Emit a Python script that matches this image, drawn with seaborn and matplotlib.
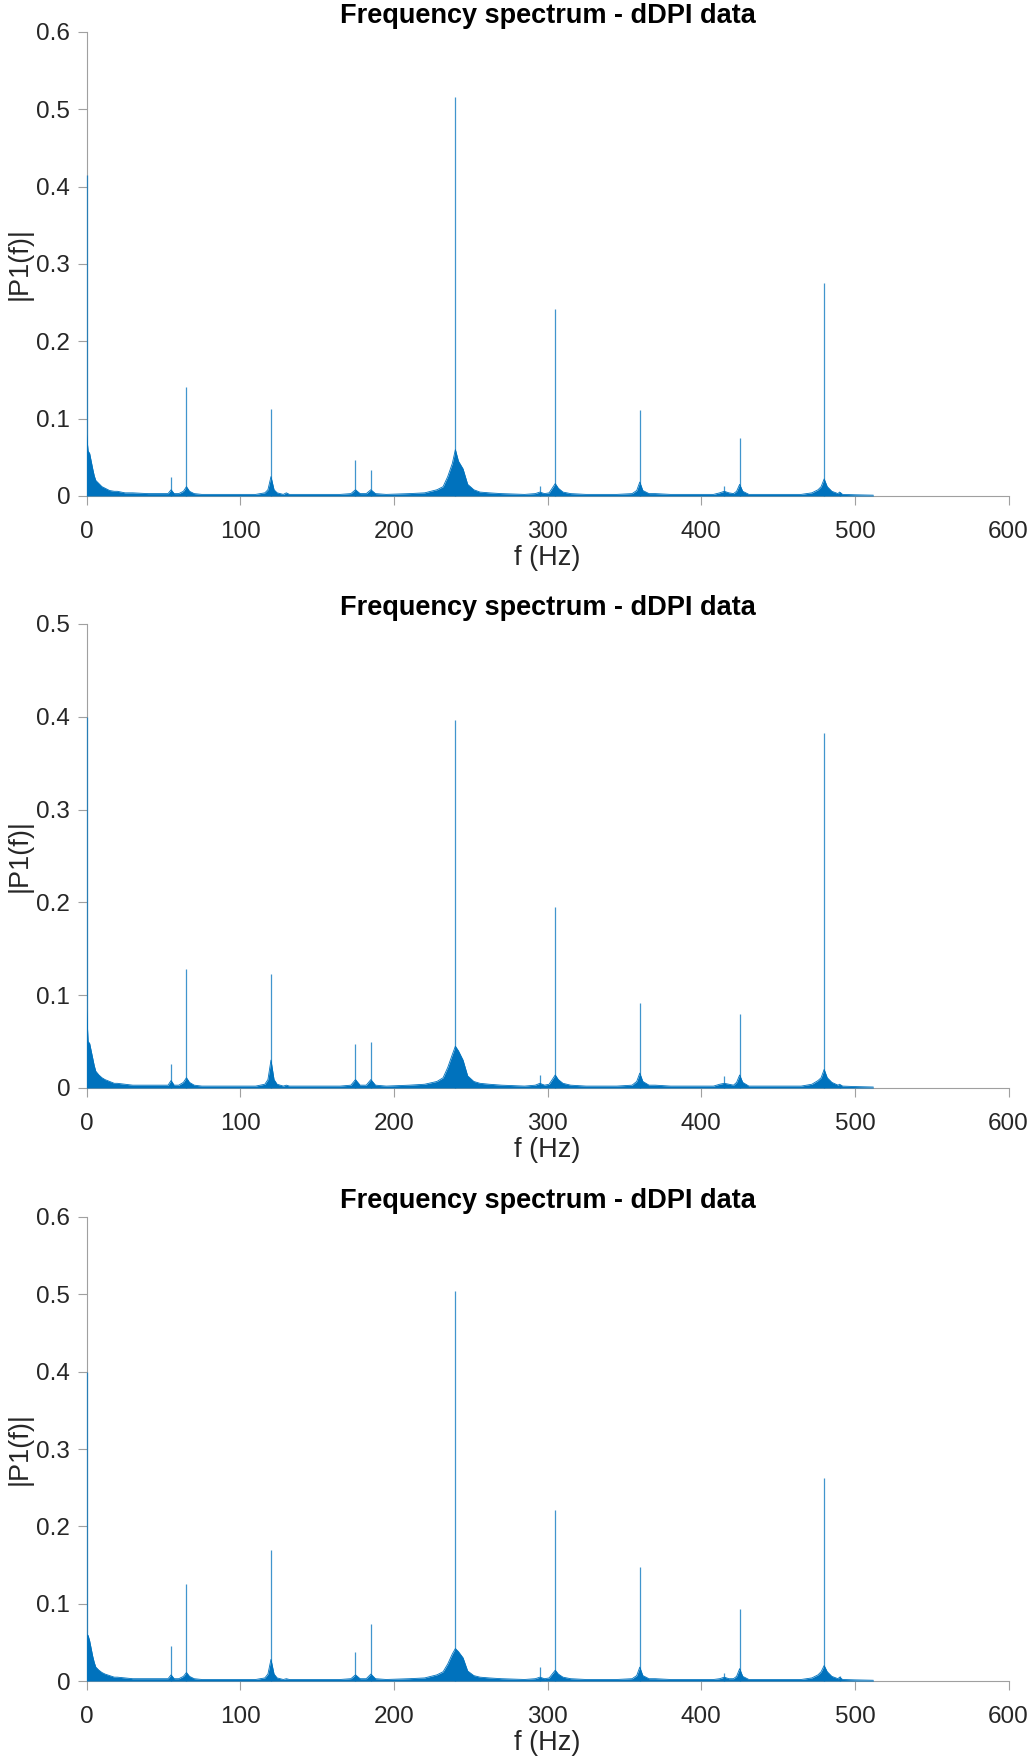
import matplotlib
matplotlib.use("Agg")
import matplotlib.pyplot as plt
from matplotlib.ticker import FuncFormatter, MultipleLocator
import pandas as pd
import seaborn as sns

# Discrete tones (Hz) and their single-sided amplitudes |P1(f)| for the three records
tone_freq = [0, 55, 65, 120, 175, 185, 240, 295, 305, 360, 415, 425, 480, 490]
tone_amp_1 = [0.415, 0.024, 0.141, 0.113, 0.047, 0.034, 0.516, 0.0125, 0.242, 0.111, 0.0125, 0.075, 0.275, 0.0055]
tone_amp_2 = [0.400, 0.026, 0.128, 0.123, 0.047, 0.049, 0.396, 0.014, 0.195, 0.091, 0.013, 0.080, 0.383, 0.0035]
tone_amp_3 = [0.400, 0.045, 0.125, 0.170, 0.038, 0.074, 0.504, 0.018, 0.221, 0.147, 0.010, 0.093, 0.262, 0.006]

# Broadband floor: upper edge of the dense noise band (Hz, amplitude)
floor_freq = [0, 1, 2, 3, 4, 5, 6, 8, 10, 12,
              15, 18, 20, 25, 30, 40, 50, 53, 55, 57,
              60, 63, 65, 67, 70, 75, 90, 110, 116, 118,
              120, 122, 124, 128, 130, 132, 150, 165, 172, 175,
              178, 182, 185, 188, 195, 210, 220, 228, 232, 235,
              238, 240, 242, 245, 248, 252, 256, 262, 270, 285,
              292, 295, 298, 301, 303, 305, 307, 310, 315, 325,
              345, 355, 358, 360, 362, 366, 370, 380, 400, 408,
              412, 415, 418, 421, 423, 425, 427, 431, 445, 465,
              472, 476, 478, 480, 482, 485, 489, 490, 492, 500,
              512]
floor_amp_1 = [0.080, 0.058, 0.055, 0.045, 0.035, 0.026, 0.020, 0.016, 0.012, 0.010,
               0.007, 0.006, 0.006, 0.004, 0.004, 0.003, 0.003, 0.003, 0.008, 0.003,
               0.003, 0.006, 0.012, 0.006, 0.003, 0.002, 0.002, 0.002, 0.004, 0.008,
               0.025, 0.008, 0.004, 0.002, 0.004, 0.002, 0.002, 0.002, 0.003, 0.008,
               0.003, 0.003, 0.008, 0.003, 0.002, 0.003, 0.004, 0.008, 0.012, 0.025,
               0.042, 0.060, 0.045, 0.035, 0.015, 0.008, 0.005, 0.004, 0.003, 0.002,
               0.003, 0.005, 0.003, 0.004, 0.010, 0.016, 0.010, 0.005, 0.003, 0.002,
               0.002, 0.003, 0.007, 0.018, 0.007, 0.003, 0.003, 0.002, 0.002, 0.002,
               0.004, 0.006, 0.004, 0.003, 0.006, 0.015, 0.006, 0.002, 0.002, 0.002,
               0.004, 0.008, 0.012, 0.022, 0.012, 0.006, 0.003, 0.005, 0.002, 0.0015,
               0.001]
floor_amp_2 = [0.085, 0.050, 0.048, 0.040, 0.032, 0.024, 0.018, 0.014, 0.011, 0.009,
               0.007, 0.005, 0.005, 0.004, 0.003, 0.003, 0.003, 0.003, 0.008, 0.003,
               0.003, 0.006, 0.011, 0.006, 0.003, 0.002, 0.002, 0.002, 0.004, 0.009,
               0.030, 0.009, 0.004, 0.002, 0.003, 0.002, 0.002, 0.002, 0.003, 0.009,
               0.003, 0.003, 0.009, 0.003, 0.002, 0.003, 0.004, 0.007, 0.011, 0.022,
               0.036, 0.045, 0.040, 0.030, 0.013, 0.007, 0.005, 0.004, 0.003, 0.002,
               0.003, 0.005, 0.003, 0.004, 0.009, 0.014, 0.009, 0.005, 0.003, 0.002,
               0.002, 0.003, 0.007, 0.016, 0.007, 0.003, 0.003, 0.002, 0.002, 0.002,
               0.004, 0.005, 0.004, 0.003, 0.006, 0.014, 0.006, 0.002, 0.002, 0.002,
               0.004, 0.008, 0.011, 0.020, 0.011, 0.006, 0.003, 0.004, 0.002, 0.0015,
               0.001]
floor_amp_3 = [0.060, 0.059, 0.052, 0.042, 0.032, 0.024, 0.018, 0.014, 0.011, 0.009,
               0.007, 0.005, 0.005, 0.004, 0.003, 0.003, 0.003, 0.003, 0.008, 0.003,
               0.003, 0.006, 0.011, 0.006, 0.003, 0.002, 0.002, 0.002, 0.004, 0.009,
               0.028, 0.009, 0.004, 0.002, 0.003, 0.002, 0.002, 0.002, 0.003, 0.008,
               0.003, 0.003, 0.009, 0.003, 0.002, 0.003, 0.004, 0.008, 0.012, 0.022,
               0.035, 0.042, 0.038, 0.030, 0.013, 0.007, 0.005, 0.004, 0.003, 0.002,
               0.003, 0.005, 0.003, 0.004, 0.009, 0.014, 0.009, 0.005, 0.003, 0.002,
               0.002, 0.003, 0.007, 0.018, 0.007, 0.003, 0.003, 0.002, 0.002, 0.002,
               0.003, 0.005, 0.003, 0.003, 0.006, 0.016, 0.006, 0.002, 0.002, 0.002,
               0.004, 0.008, 0.012, 0.020, 0.012, 0.006, 0.003, 0.005, 0.002, 0.0015,
               0.001]

y_top = [0.6, 0.5, 0.6]
x_ticks = [0, 100, 200, 300, 400, 500, 600]
title_text = "Frequency spectrum - dDPI data"

BLUE = "#0072BD"
AXIS_GREY = "#a0a0a0"
TEXT_DARK = "#262626"

sns.set_theme(style="white")
plt.rcParams["font.family"] = ["Liberation Sans", "DejaVu Sans"]

fig = plt.figure(figsize=(10.32, 17.63), dpi=100)

panels = [
    (tone_amp_1, floor_amp_1, y_top[0], 0.7187),
    (tone_amp_2, floor_amp_2, y_top[1], 0.3829),
    (tone_amp_3, floor_amp_3, y_top[2], 0.0465),
]


def fmt_tick(v, pos):
    if abs(v) < 1e-9:
        return "0"
    return f"{v:.1f}"


for tones, floor, ymax, bottom in panels:
    ax = fig.add_axes([0.0839, bottom, 0.8934, 0.2632])
    df = pd.DataFrame({"f": floor_freq, "amp": floor})

    # noise band
    ax.fill_between(df["f"], 0, df["amp"], color=BLUE, lw=0, zorder=3)
    sns.lineplot(data=df, x="f", y="amp", ax=ax, color=BLUE, lw=0.6,
                 estimator=None, sort=False, zorder=3)
    # discrete tones
    ax.vlines(tone_freq, 0, tones, color=BLUE, lw=0.9, alpha=0.75,
              zorder=3, clip_on=False)

    ax.set_xlim(0, 600)
    ax.set_ylim(0, ymax)
    ax.set_xticks(x_ticks)
    ax.yaxis.set_major_locator(MultipleLocator(0.1))
    ax.yaxis.set_major_formatter(FuncFormatter(fmt_tick))

    for side in ("top", "right"):
        ax.spines[side].set_visible(False)
    for side in ("left", "bottom"):
        ax.spines[side].set_color(AXIS_GREY)
        ax.spines[side].set_linewidth(0.8)
        ax.spines[side].set_zorder(1)

    ax.tick_params(axis="both", which="major", bottom=True, left=True,
                   top=False, right=False, direction="out", length=6.7,
                   width=0.8, color=AXIS_GREY, labelcolor=TEXT_DARK,
                   labelsize=17.5)
    ax.tick_params(axis="x", pad=11)
    ax.tick_params(axis="y", pad=5)

    ax.set_title(title_text, fontsize=19.5, fontweight="bold", color="black", pad=6.5)
    ax.set_xlabel("f (Hz)", fontsize=19.5, color=TEXT_DARK, labelpad=2)
    ax.set_ylabel("|P1(f)|", fontsize=19.5, color=TEXT_DARK, labelpad=2.5)

fig.savefig("out.png", dpi=100, facecolor="white")
